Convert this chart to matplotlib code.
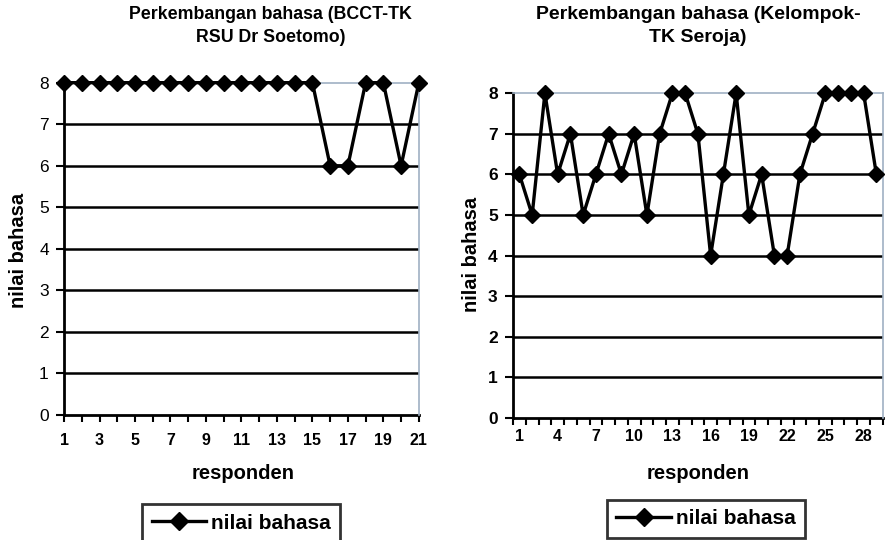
import matplotlib
matplotlib.use("Agg")
import matplotlib.pyplot as plt
import numpy as np

# data
resp_a = list(range(1, 22))
nilai_a = [8, 8, 8, 8, 8, 8, 8, 8, 8, 8, 8, 8, 8, 8, 8, 6, 6, 8, 8, 6, 8]

resp_b = list(range(1, 30))
nilai_b = [6, 5, 8, 6, 7, 5, 6, 7, 6, 7, 5, 7, 8, 8, 7, 4, 6, 8, 5, 6,
           4, 4, 6, 7, 8, 8, 8, 8, 6]

title_a = "Perkembangan bahasa (BCCT-TK\nRSU Dr Soetomo)"
title_b = "Perkembangan bahasa (Kelompok-\nTK Seroja)"
xticks_a = [1, 3, 5, 7, 9, 11, 13, 15, 17, 19, 21]
xticks_b = [1, 4, 7, 10, 13, 16, 19, 22, 25, 28]

plt.rcParams['font.family'] = ['Liberation Sans', 'DejaVu Sans']

fig = plt.figure(figsize=(8.87, 5.4), dpi=100)
ax1 = fig.add_axes([0.0722, 0.2315, 0.400, 0.6154])
ax2 = fig.add_axes([0.5784, 0.2263, 0.4168, 0.601])


def style(ax, x, y, xlim, minor_ticks, xt, ybold):
    for v in range(1, 8):
        ax.axhline(v, color='black', lw=1.8, zorder=1)
    ax.plot(x, y, color='black', lw=2.4, marker='D', ms=8.5,
            markerfacecolor='black', markeredgecolor='black', zorder=3,
            clip_on=False, label='nilai bahasa')
    ax.set_xlim(*xlim)
    ax.set_ylim(0, 8)
    ax.set_yticks(range(0, 9))
    ax.set_xticks(minor_ticks, minor=True)
    ax.set_xticks(xt)
    ax.tick_params(axis='x', which='both', length=5, width=1.5,
                   direction='out', pad=8)
    ax.tick_params(axis='y', length=6, width=1.5, pad=5)
    for lab in ax.get_xticklabels():
        lab.set_fontweight('bold')
        lab.set_fontsize(11.5)
    for lab in ax.get_yticklabels():
        lab.set_fontsize(12.5 if not ybold else 12.5)
        lab.set_fontweight('bold' if ybold else 'normal')
    for s in ['left', 'bottom']:
        ax.spines[s].set_color('black')
        ax.spines[s].set_linewidth(2)
    for s in ['top', 'right']:
        ax.spines[s].set_color('#9fb0c4')
        ax.spines[s].set_linewidth(1.2)
    ax.spines['bottom'].set_zorder(2)


style(ax1, resp_a, nilai_a, (1, 21), resp_a, xticks_a, False)
style(ax2, resp_b, nilai_b, (0.5, 29.5), np.arange(0.5, 30, 1.0), xticks_b, True)
ax2.tick_params(axis='x', which='major', length=0)

fig.text(0.305, 0.952, title_a, ha='center', va='center', fontsize=12.8,
         fontweight='bold', linespacing=1.4)
fig.text(0.787, 0.952, title_b, ha='center', va='center', fontsize=14,
         fontweight='bold', linespacing=1.45)

fig.text(0.021, 0.537, 'nilai bahasa', rotation=90, ha='center', va='center',
         fontsize=14.5, fontweight='bold')
fig.text(0.532, 0.528, 'nilai bahasa', rotation=90, ha='center', va='center',
         fontsize=14.5, fontweight='bold')
fig.text(0.274, 0.124, 'responden', ha='center', va='center',
         fontsize=14.5, fontweight='bold')
fig.text(0.787, 0.124, 'responden', ha='center', va='center',
         fontsize=14.5, fontweight='bold')

for ax, cx, cy in [(ax1, 0.272, 0.031), (ax2, 0.796, 0.039)]:
    h, l = ax.get_legend_handles_labels()
    leg = fig.legend(h, l, loc='center', bbox_to_anchor=(cx, cy),
                     frameon=True, fancybox=False, edgecolor='black',
                     handlelength=2.6, handletextpad=0.25, borderpad=0.45,
                     borderaxespad=0, prop={'weight': 'bold', 'size': 15})
    leg.get_frame().set_linewidth(2)
    for line in leg.get_lines():
        line.set_markersize(9)

fig.savefig('out.png', dpi=100)
